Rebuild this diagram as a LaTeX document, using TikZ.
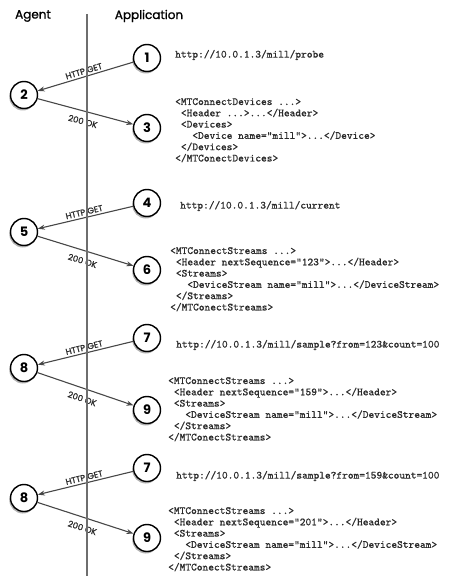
\documentclass[tikz,border=0pt]{standalone}
\usepackage{fontspec}
\setmainfont{Poppins}
\setmonofont{Latin Modern Mono}[FakeBold=0.7]
\newfontfamily\headfont{Poppins}[FakeBold=1.2]
\definecolor{MTCink}{HTML}{2A2A2A}
\definecolor{MTCwire}{HTML}{474747}
\definecolor{MTCrule}{HTML}{6E6E6E}
\usetikzlibrary{arrows.meta, shadows, positioning}
\newcommand{\indone}{\hspace*{0.525em}}
\newcommand{\indthree}{\hspace*{1.575em}}
\tikzset{
   msg/.style={circle, draw=black, line width=1.4pt, fill=white, minimum size=27pt,
      inner sep=0pt, font=\fontsize{13}{13}\selectfont\bfseries,
      drop shadow={shadow xshift=-1.2pt, shadow yshift=-2pt, fill=black, opacity=0.3}},
   wire/.style={-{Stealth[length=7pt, width=5pt]}, MTCwire, line width=1.1pt},
   verb/.style={font=\headfont\fontsize{8.5}{8.5}\selectfont, text=MTCink, inner sep=1pt},
   url/.style={anchor=west, inner sep=0pt, text=MTCink, font=\ttfamily\fontsize{10.9}{11.3}\selectfont},
   xml/.style={anchor=north west, inner sep=0pt, align=left, text=MTCink,
      font=\ttfamily\fontsize{10.9}{11.3}\selectfont}
}

\begin{document}
\begin{tikzpicture}[x=1pt, y=-1pt]
            \useasboundingbox (0,0) rectangle (448,580);
            % Headers
            \node[font=\headfont\fontsize{12}{12}\selectfont] (agent) at (33,16) {Agent};
            \node[font=\headfont\fontsize{12}{12}\selectfont] (app) at (149,16) {Application};
            % Probe
            \node[msg] (n1) at (147,58) {1};
            \node[msg] (n2) at (24,95) {2};
            \node[msg] (n3) at (147,128) {3};
            \draw[wire] (n1) -- node[verb, sloped, above=1pt] {HTTP GET} (n2);
            \draw[wire] (n2) -- node[verb, sloped, below=5.5pt] {200 OK} (n3);
            \node[url] (u1) at (175,55) {http://10.0.1.3/mill/probe};
            \node[xml] (x1) at (175,98) {<MTConnectDevices ...>\\
               \indone<Header ...>...</Header>\\
               \indone<Devices>\\
               \indthree<Device name="mill">...</Device>\\
               \indone</Devices>\\
               </MTConectDevices>};
            % Current
            \node[msg] (n4) at (147,203) {4};
            \node[msg] (n5) at (24,232) {5};
            \node[msg] (n6) at (147,270) {6};
            \draw[wire] (n4) -- node[verb, sloped, above=1pt] {HTTP GET} (n5);
            \draw[wire] (n5) -- node[verb, sloped, below=5.5pt] {200 OK} (n6);
            \node[url] (u2) at (180,206) {http://10.0.1.3/mill/current};
            \node[xml] (x2) at (170,247) {<MTConnectStreams ...>\\
               \indone<Header nextSequence="123">...</Header>\\
               \indone<Streams>\\
               \indthree<DeviceStream name="mill">...</DeviceStream>\\
               \indone</Streams>\\
               </MTConectStreams>};
            % Sample from 123
            \node[msg] (n7) at (147,338) {7};
            \node[msg] (n8) at (24,368) {8};
            \node[msg] (n9) at (147,410) {9};
            \draw[wire] (n7) -- node[verb, sloped, above=1pt] {HTTP GET} (n8);
            \draw[wire] (n8) -- node[verb, sloped, below=5.5pt] {200 OK} (n9);
            \node[url] (u3) at (176,345) {http://10.0.1.3/mill/sample?from=123\&count=100};
            \node[xml] (x3) at (168,377) {<MTConnectStreams ...>\\
               \indone<Header nextSequence="159">...</Header>\\
               \indone<Streams>\\
               \indthree<DeviceStream name="mill">...</DeviceStream>\\
               \indone</Streams>\\
               </MTConectStreams>};
            % Sample from 159
            \node[msg] (n10) at (147,468) {7};
            \node[msg] (n11) at (24,498) {8};
            \node[msg] (n12) at (147,538) {9};
            \draw[wire] (n10) -- node[verb, sloped, above=1pt] {HTTP GET} (n11);
            \draw[wire] (n11) -- node[verb, sloped, below=5.5pt] {200 OK} (n12);
            \node[url] (u4) at (176,476) {http://10.0.1.3/mill/sample?from=159\&count=100};
            \node[xml] (x4) at (168,507) {<MTConnectStreams ...>\\
               \indone<Header nextSequence="201">...</Header>\\
               \indone<Streams>\\
               \indthree<DeviceStream name="mill">...</DeviceStream>\\
               \indone</Streams>\\
               </MTConectStreams>};
            % Agent / Application divider
            \coordinate (top) at (87,14);
            \coordinate (bottom) at (87,576);
            \draw[MTCrule, line width=1.2pt] (top) -- (bottom);
         \end{tikzpicture}
\end{document}
